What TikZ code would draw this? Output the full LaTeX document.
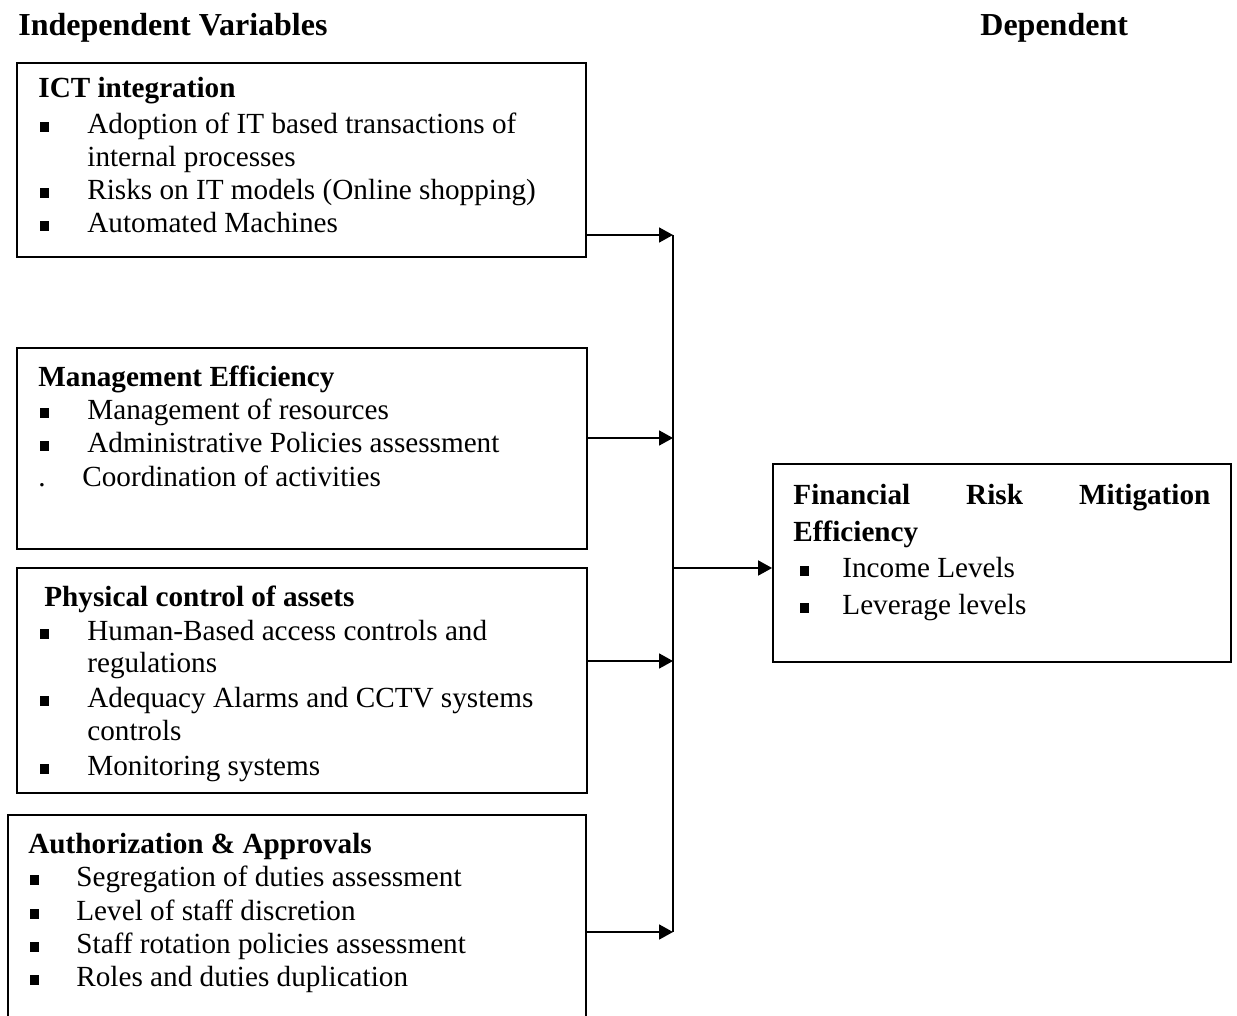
\documentclass[tikz,border=0pt]{standalone}
\usepackage{fontspec}
\setmainfont{Liberation Serif}
\usetikzlibrary{arrows.meta,fit}
\newcommand{\mysq}{\rule[1pt]{4.4pt}{5pt}}
\newcommand{\myb}[1]{\makebox[#1][l]{\mysq}}
\begin{document}
\begin{tikzpicture}[x=0.5pt,y=-0.5pt,
  txt/.style={anchor=mid west, inner sep=0, font=\fontsize{14.6pt}{16.8pt}\selectfont},
  ttl/.style={anchor=mid west, inner sep=0, font=\fontsize{14.6pt}{16.8pt}\selectfont\bfseries},
  hdr/.style={anchor=mid west, inner sep=0, font=\fontsize{16pt}{19pt}\selectfont\bfseries},
  box/.style={draw, line width=0.9pt, inner sep=0},
  link/.style={line width=0.9pt},
  arr/.style={line width=0.9pt, -{Triangle[length=7pt,width=7.5pt]}}]
\useasboundingbox (0,0) rectangle (1237,1016);

% headings
\node[hdr] (hind) at (18,31) {Independent Variables};
\node[hdr] (hdep) at (980,31) {Dependent};

% boxes
\node[box, fit={(17,63) (586,257)}] (b1) {};
\node[box, fit={(17,348) (587,549)}] (b2) {};
\node[box, fit={(17,568) (587,793)}] (b3) {};
\node[box, fit={(8,815) (586,1040)}] (b4) {};
\node[box, fit={(773,464) (1231,662)}] (b5) {};

% box 1
\node[ttl] (t1) at (38,93) {ICT integration};
\node[txt] (t1a) at (40,129) {\myb{23.5pt}Adoption of IT based transactions of};
\node[txt] (t1b) at (87,162) {internal processes};
\node[txt] (t1c) at (40,195) {\myb{23.5pt}Risks on IT models (Online shopping)};
\node[txt] (t1d) at (40,228) {\myb{23.5pt}Automated Machines};

% box 2
\node[ttl] (t2) at (38,382) {Management Efficiency};
\node[txt] (t2a) at (40,415) {\myb{23.5pt}Management of resources};
\node[txt] (t2b) at (40,448) {\myb{23.5pt}Administrative Policies assessment};
\node[txt] (t2c) at (38,482) {\makebox[22pt][l]{.}Coordination of activities};

% box 3
\node[ttl] (t3) at (44,602) {Physical control of assets};
\node[txt] (t3a) at (40,636) {\myb{23.5pt}Human-Based access controls and};
\node[txt] (t3b) at (87,668) {regulations};
\node[txt] (t3c) at (40,703) {\myb{23.5pt}Adequacy Alarms and CCTV systems};
\node[txt] (t3d) at (87,736) {controls};
\node[txt] (t3e) at (40,771) {\myb{23.5pt}Monitoring systems};

% box 4
\node[ttl] (t4) at (28,849) {Authorization \& Approvals};
\node[txt] (t4a) at (30,882) {\myb{23pt}Segregation of duties assessment};
\node[txt] (t4b) at (30,916) {\myb{23pt}Level of staff discretion};
\node[txt] (t4c) at (30,949) {\myb{23pt}Staff rotation policies assessment};
\node[txt] (t4d) at (30,982) {\myb{23pt}Roles and duties duplication};

% box 5
\node[ttl] (t5) at (793,500) {\makebox[208.5pt][s]{Financial\hfill Risk\hfill Mitigation}};
\node[ttl] (t5b) at (793,537) {Efficiency};
\node[txt] (t5c) at (800,573) {\myb{21pt}Income Levels};
\node[txt] (t5d) at (800,610) {\myb{21pt}Leverage levels};

% connectors
\coordinate (j1) at (673,235);
\coordinate (j2) at (673,438);
\coordinate (j3) at (673,661);
\coordinate (j4) at (673,932);
\coordinate (j5) at (673,568);
\draw[arr] (b1.east |- j1) -- (j1);
\draw[arr] (b2.east |- j2) -- (j2);
\draw[arr] (b3.east |- j3) -- (j3);
\draw[arr] (b4.east |- j4) -- (j4);
\draw[link] (j1) -- (j4);
\draw[arr] (j5) -- (b5.west |- j5);
\end{tikzpicture}
\end{document}
